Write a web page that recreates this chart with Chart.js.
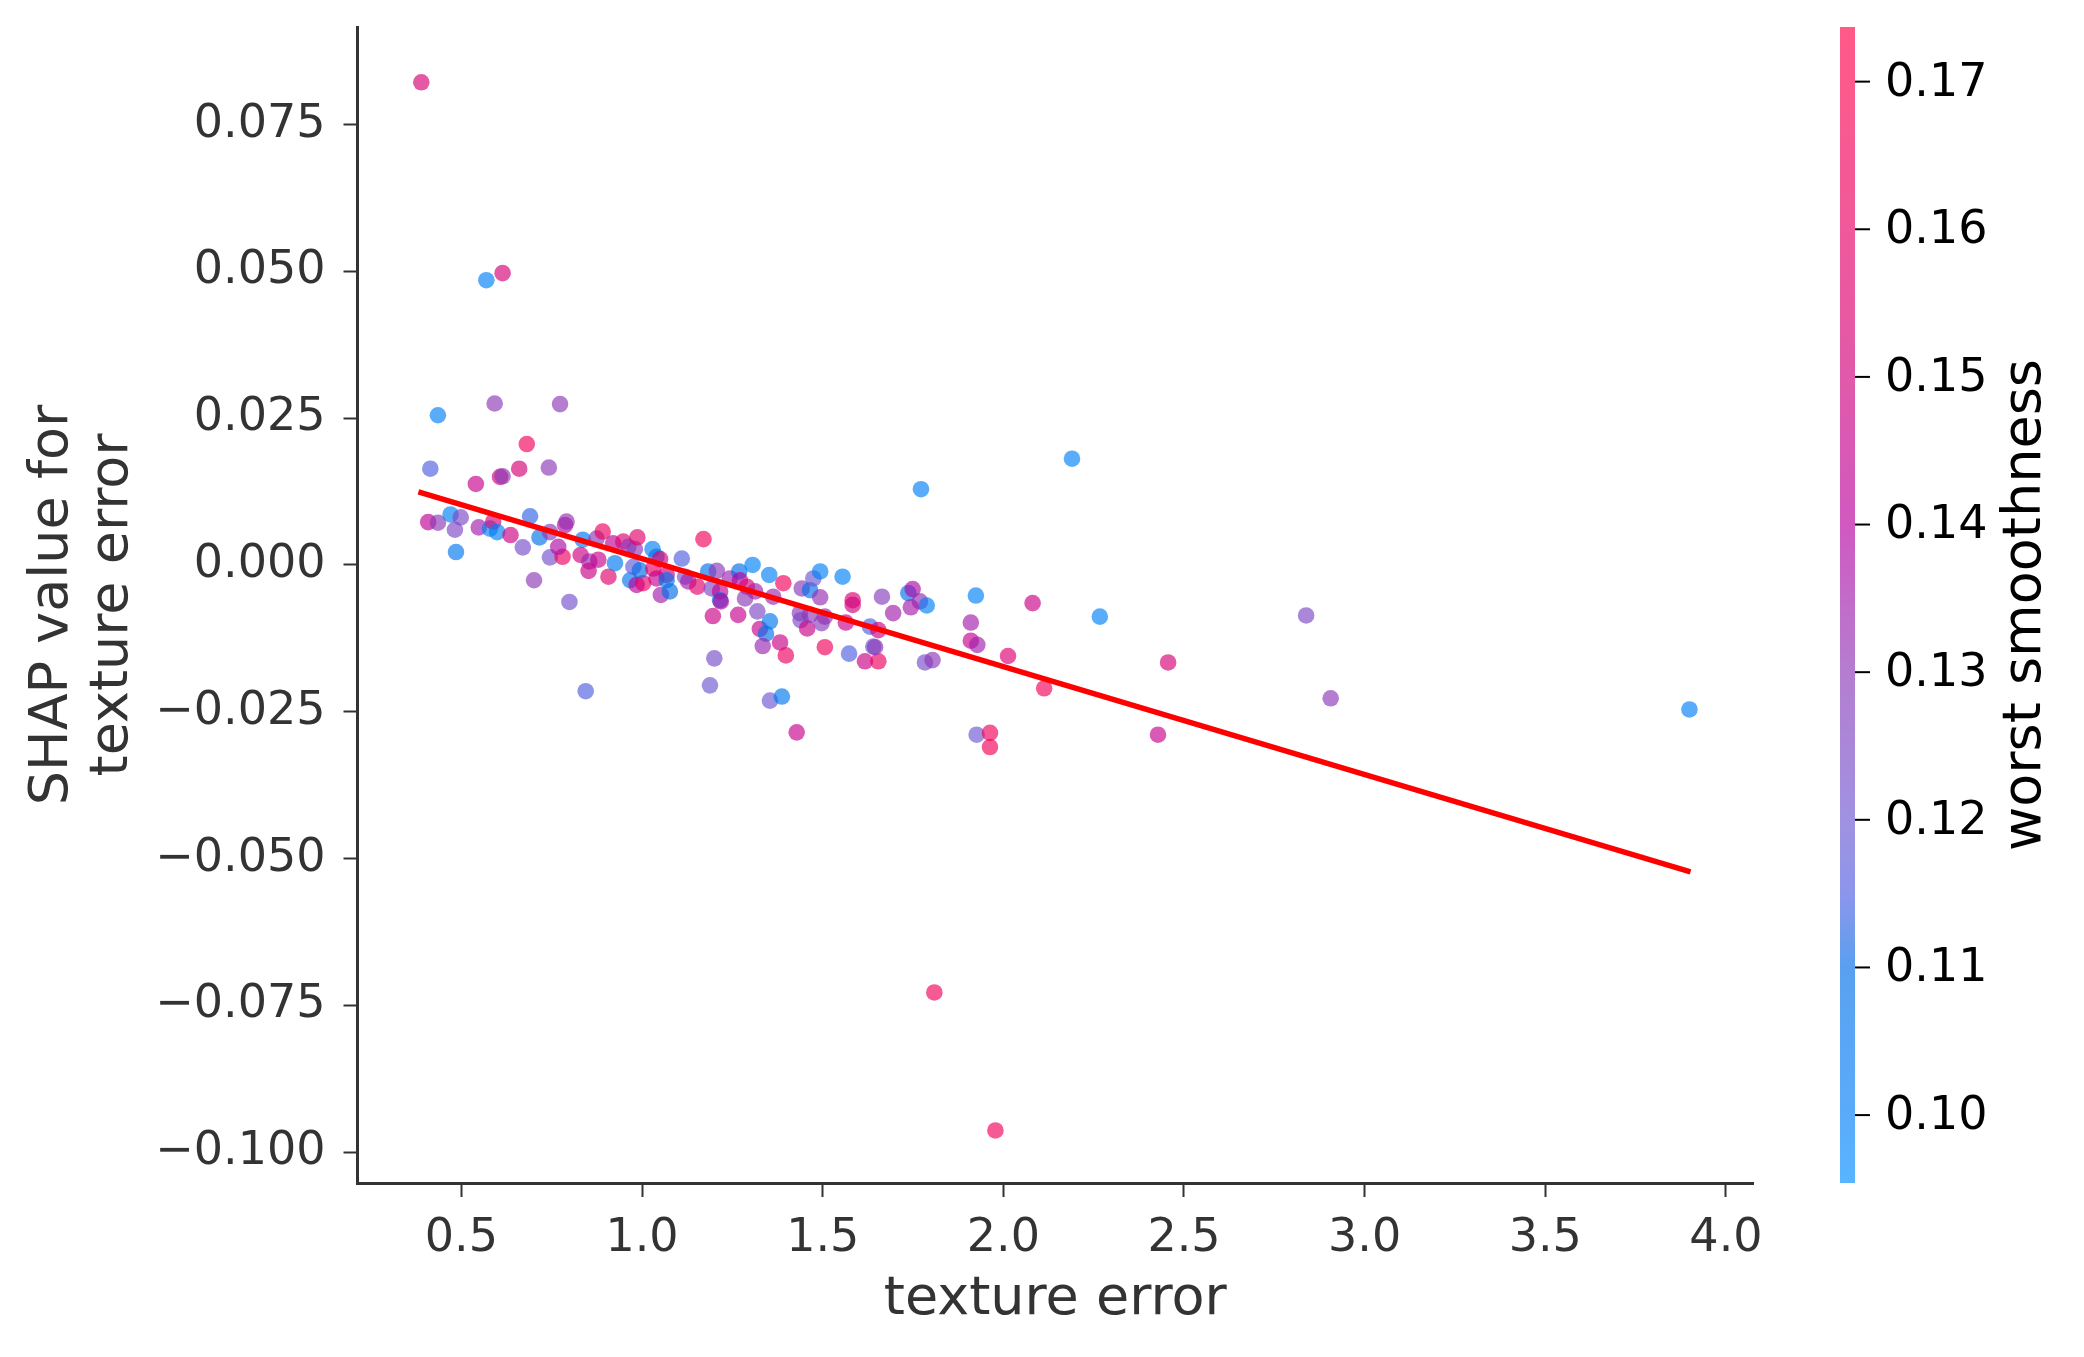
<!DOCTYPE html>
<html>
<head>
<meta charset="utf-8">
<script src="https://cdn.jsdelivr.net/npm/chart.js@4.4.1/dist/chart.umd.min.js"></script>
<style>
  html, body { margin: 0; padding: 0; background: #fff; }
  canvas { display: block; }
</style>
</head>
<body>
<canvas id="chart" width="2084" height="1357"></canvas>
<script>
// values
const textureError = [
  0.389, 0.569, 0.614,
  0.435, 0.592, 0.773, 0.681, 0.414, 0.540, 0.607, 0.614, 0.660, 0.742,
  0.408, 0.435, 0.470, 0.498, 0.482, 0.485, 0.548, 0.579, 0.588, 0.599,
  0.636, 0.670, 0.690, 0.716, 0.745, 0.701, 0.745, 0.780, 0.768, 0.787,
  0.791, 0.799, 0.844, 0.836, 0.830, 0.854, 0.852, 0.879, 0.874, 0.891,
  0.907, 0.920, 0.925, 0.948, 0.962, 0.980, 0.987, 0.967, 0.985, 1.003,
  0.976, 0.994, 1.029, 1.040, 1.050, 1.031, 1.040, 1.052, 1.068, 1.077,
  1.068, 1.110, 1.119, 1.128, 1.153, 1.170, 1.183, 1.207, 1.193, 1.216,
  1.216, 1.218, 1.196, 1.200, 1.188, 1.243, 1.269, 1.271, 1.290, 1.285,
  1.313, 1.266, 1.306, 1.319, 1.326, 1.343, 1.354, 1.334, 1.352, 1.363,
  1.354, 1.387, 1.382, 1.398, 1.391, 1.428, 1.442, 1.465, 1.474, 1.493,
  1.493, 1.437, 1.439, 1.457, 1.465, 1.497, 1.506, 1.506, 1.555, 1.573,
  1.564, 1.583, 1.583, 1.617, 1.631, 1.640, 1.654, 1.654, 1.664, 1.645,
  1.772, 2.190, 1.737, 1.749, 1.769, 1.788, 1.744, 1.695, 1.783, 1.804,
  1.924, 1.910, 1.910, 1.928, 1.926, 1.963, 1.963, 2.013, 2.081, 2.113,
  2.267, 2.456, 2.428, 2.838, 2.906, 3.899, 1.809, 1.978
];
const shapValue = [
  0.0822, 0.0485, 0.0497,
  0.0255, 0.0275, 0.0274, 0.0206, 0.0164, 0.0138, 0.0150, 0.0151, 0.0164, 0.0166,
  0.0073, 0.0072, 0.0086, 0.0081, 0.0060, 0.0022, 0.0064, 0.0062, 0.0074, 0.0056,
  0.0051, 0.0030, 0.0083, 0.0047, 0.0056, -0.0026, 0.0013, 0.0014, 0.0031, 0.0068,
  0.0074, -0.0063, -0.0215, 0.0043, 0.0017, 0.0006, -0.0010, 0.0009, 0.0045, 0.0057,
  -0.0020, 0.0037, 0.0003, 0.0040, 0.0031, 0.0027, 0.0047, -0.0026, -0.0034, -0.0031,
  -0.0003, -0.0009, 0.0027, 0.0014, 0.0010, -0.0006, -0.0023, -0.0051, -0.0017, -0.0045,
  -0.0026, 0.0011, -0.0020, -0.0028, -0.0037, 0.0044, -0.0011, -0.0010, -0.0040, -0.0045,
  -0.0060, -0.0062, -0.0087, -0.0159, -0.0205, -0.0023, -0.0011, -0.0026, -0.0037, -0.0057,
  -0.0045, -0.0085, 0.0000, -0.0079, -0.0109, -0.0117, -0.0096, -0.0138, -0.0017, -0.0054,
  -0.0231, -0.0224, -0.0132, -0.0154, -0.0031, -0.0285, -0.0040, -0.0043, -0.0023, -0.0011,
  -0.0055, -0.0082, -0.0094, -0.0108, -0.0085, -0.0099, -0.0088, -0.0140, -0.0020, -0.0151,
  -0.0098, -0.0060, -0.0068, -0.0164, -0.0105, -0.0139, -0.0111, -0.0164, -0.0054, -0.0140,
  0.0129, 0.0181, -0.0048, -0.0041, -0.0062, -0.0069, -0.0072, -0.0082, -0.0166, -0.0162,
  -0.0052, -0.0098, -0.0129, -0.0136, -0.0289, -0.0286, -0.0310, -0.0155, -0.0065, -0.0210,
  -0.0088, -0.0166, -0.0289, -0.0086, -0.0227, -0.0246, -0.0728, -0.0963
];
const worstSmoothness = [
  0.152, 0.100, 0.152,
  0.100, 0.130, 0.130, 0.165, 0.115, 0.145, 0.150, 0.130, 0.152, 0.130,
  0.143, 0.130, 0.100, 0.125, 0.125, 0.105, 0.135, 0.100, 0.155, 0.100,
  0.148, 0.123, 0.113, 0.108, 0.130, 0.130, 0.122, 0.162, 0.138, 0.138,
  0.132, 0.122, 0.115, 0.105, 0.148, 0.133, 0.147, 0.145, 0.130, 0.163,
  0.157, 0.143, 0.105, 0.155, 0.130, 0.130, 0.158, 0.105, 0.140, 0.160,
  0.118, 0.110, 0.100, 0.108, 0.155, 0.160, 0.145, 0.135, 0.148, 0.110,
  0.108, 0.115, 0.123, 0.135, 0.158, 0.165, 0.108, 0.130, 0.125, 0.145,
  0.108, 0.140, 0.147, 0.123, 0.120, 0.133, 0.110, 0.140, 0.155, 0.130,
  0.135, 0.145, 0.100, 0.125, 0.145, 0.108, 0.105, 0.133, 0.100, 0.133,
  0.120, 0.105, 0.147, 0.163, 0.165, 0.145, 0.130, 0.108, 0.120, 0.100,
  0.132, 0.130, 0.125, 0.147, 0.130, 0.128, 0.132, 0.165, 0.100, 0.115,
  0.145, 0.155, 0.150, 0.147, 0.115, 0.120, 0.148, 0.163, 0.128, 0.130,
  0.100, 0.100, 0.108, 0.138, 0.132, 0.100, 0.135, 0.135, 0.123, 0.130,
  0.100, 0.135, 0.145, 0.135, 0.120, 0.165, 0.165, 0.155, 0.147, 0.165,
  0.100, 0.152, 0.145, 0.125, 0.130, 0.100, 0.165, 0.165
];

// fitted trend line
const trendX = [0.381, 3.902];
const trendY = [0.01247, -0.05225];

const xTicks = [0.5, 1.0, 1.5, 2.0, 2.5, 3.0, 3.5, 4.0];
const xTickLabels = ['0.5', '1.0', '1.5', '2.0', '2.5', '3.0', '3.5', '4.0'];
const yTicks = [-0.100, -0.075, -0.050, -0.025, 0.000, 0.025, 0.050, 0.075];
const yTickLabels = ['\u22120.100', '\u22120.075', '\u22120.050', '\u22120.025', '0.000', '0.025', '0.050', '0.075'];
const cbTicks = [0.10, 0.11, 0.12, 0.13, 0.14, 0.15, 0.16, 0.17];
const cbTickLabels = ['0.10', '0.11', '0.12', '0.13', '0.14', '0.15', '0.16', '0.17'];

const xMin = 0.2124, xMax = 4.0749;
const yMin = -0.10525, yMax = 0.09162;
const cbMin = 0.0954, cbMax = 0.1737;

// red-blue colour map, drawn at alpha 0.65 like the original
const cmapVals = [0.0954, 0.100, 0.110, 0.115, 0.120, 0.130, 0.140, 0.150, 0.160, 0.170, 0.1737];
const cmapRGB = [[1,140,255],[0,127,247],[1,109,232],[78,93,224],[109,86,209],[140,55,183],
                 [183,0,158],[209,0,124],[232,0,101],[250,1,78],[255,1,70]];
const ALPHA = 0.65;

function cmap(v, a) {
  if (v <= cmapVals[0]) v = cmapVals[0];
  if (v >= cmapVals[cmapVals.length - 1]) v = cmapVals[cmapVals.length - 1];
  let i = 0;
  while (i < cmapVals.length - 2 && v > cmapVals[i + 1]) i++;
  const t = (v - cmapVals[i]) / (cmapVals[i + 1] - cmapVals[i]);
  const c = cmapRGB[i].map((x, k) => Math.round(x + (cmapRGB[i + 1][k] - x) * t));
  return 'rgba(' + c[0] + ',' + c[1] + ',' + c[2] + ',' + a + ')';
}

const points = textureError.map((x, i) => ({ x: x, y: shapValue[i], c: worstSmoothness[i] }));
const trend = trendX.map((x, i) => ({ x: x, y: trendY[i] }));

const FONT = 'DejaVu Sans';
const AXIS = '#333333';

// colorbar for worst smoothness, placed with the hidden 'c' scale
const colorbar = {
  id: 'colorbar',
  afterDraw(chart) {
    const ctx = chart.ctx;
    const s = chart.scales.c;
    const top = s.getPixelForValue(cbMax);
    const bottom = s.getPixelForValue(cbMin);
    const x0 = chart.chartArea.right + 87, w = 15;
    const g = ctx.createLinearGradient(0, bottom, 0, top);
    cmapVals.forEach(v => {
      g.addColorStop(Math.min(1, Math.max(0, (v - cbMin) / (cbMax - cbMin))), cmap(v, ALPHA));
    });
    ctx.save();
    ctx.fillStyle = g;
    ctx.fillRect(x0, top, w, bottom - top);

    ctx.strokeStyle = '#000';
    ctx.lineWidth = 2;
    ctx.fillStyle = '#000';
    ctx.font = '46px "' + FONT + '"';
    ctx.textAlign = 'left';
    ctx.textBaseline = 'middle';
    cbTicks.forEach((v, i) => {
      const y = s.getPixelForValue(v);
      ctx.beginPath();
      ctx.moveTo(x0 + w, y);
      ctx.lineTo(x0 + w + 15, y);
      ctx.stroke();
      ctx.fillText(cbTickLabels[i], x0 + w + 30, y + 2);
    });

    ctx.translate(x0 + 186, (top + bottom) / 2);
    ctx.rotate(-Math.PI / 2);
    ctx.textAlign = 'center';
    ctx.font = '54px "' + FONT + '"';
    ctx.fillText('worst smoothness', 0, 0);
    ctx.restore();
  }
};

new Chart(document.getElementById('chart'), {
  type: 'scatter',
  data: {
    datasets: [
      {
        type: 'line',
        data: trend,
        borderColor: '#ff0000',
        borderWidth: 5.5,
        pointRadius: 0,
        showLine: true,
        fill: false,
        order: 0
      },
      {
        data: points,
        pointRadius: 8.3,
        pointHoverRadius: 8.3,
        borderWidth: 0,
        backgroundColor: ctx => cmap(ctx.raw ? ctx.raw.c : 0.13, ALPHA),
        order: 1
      }
    ]
  },
  options: {
    responsive: false,
    animation: false,
    devicePixelRatio: 1,
    layout: { padding: { left: 0, top: 27, right: 331, bottom: 0 } },
    plugins: { legend: { display: false }, tooltip: { enabled: false } },
    scales: {
      x: {
        type: 'linear',
        position: 'bottom',
        min: xMin,
        max: xMax,
        afterBuildTicks: s => { s.ticks = xTicks.map(v => ({ value: v })); },
        afterFit: s => { s.height = 174; s.paddingLeft = 0; s.paddingRight = 0; },
        ticks: {
          callback: (v, i) => xTickLabels[i],
          font: { family: FONT, size: 46 },
          color: AXIS,
          padding: 14,
          maxRotation: 0
        },
        grid: { display: true, drawOnChartArea: false, drawTicks: true, tickLength: 14, tickWidth: 2, tickColor: AXIS, color: AXIS },
        border: { display: true, color: AXIS, width: 3 },
        title: {
          display: true,
          text: 'texture error',
          color: AXIS,
          font: { family: FONT, size: 54, lineHeight: 1.11 },
          padding: { top: 0, bottom: 27 }
        }
      },
      y: {
        type: 'linear',
        position: 'left',
        min: yMin,
        max: yMax,
        afterBuildTicks: s => { s.ticks = yTicks.map(v => ({ value: v })); },
        afterFit: s => { s.width = 357.5; s.paddingTop = 0; s.paddingBottom = 0; },
        ticks: {
          callback: (v, i) => yTickLabels[i],
          font: { family: FONT, size: 46 },
          color: AXIS,
          padding: 18
        },
        grid: { display: true, drawOnChartArea: false, drawTicks: true, tickLength: 14, tickWidth: 2, tickColor: AXIS, color: AXIS },
        border: { display: true, color: AXIS, width: 3 },
        title: {
          display: true,
          text: ['SHAP value for', 'texture error'],
          color: AXIS,
          font: { family: FONT, size: 54, lineHeight: 1.11 },
          padding: { top: 23, bottom: 0 }
        }
      },
      c: {
        type: 'linear',
        axis: 'y',
        position: 'right',
        display: false,
        min: cbMin,
        max: cbMax
      }
    }
  },
  plugins: [colorbar]
});
</script>
</body>
</html>
